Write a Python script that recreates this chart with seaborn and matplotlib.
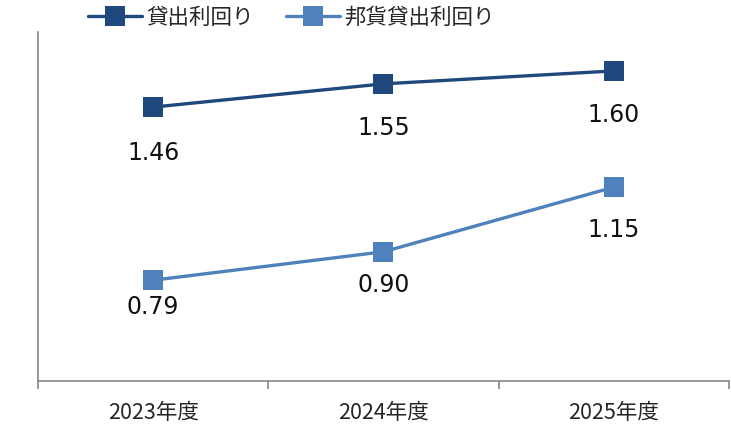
import pandas as pd
import matplotlib.pyplot as plt
import seaborn as sns

years = ["2023年度", "2024年度", "2025年度"]
series_names = ["貸出利回り", "邦貨貸出利回り"]
loan_yield = [1.46, 1.55, 1.60]
yen_loan_yield = [0.79, 0.90, 1.15]

colors = ["#1F497D", "#4F81BD"]
# label offsets below each point (points)
label_offsets = [[-33, -32, -32], [-19, -24, -31]]

rows = []
for name, vals in zip(series_names, [loan_yield, yen_loan_yield]):
    for i, v in enumerate(vals):
        rows.append({"x": i, "year": years[i], "series": name, "value": v})
df = pd.DataFrame(rows)

sns.set_style("white")
plt.rcParams["font.family"] = ["Noto Sans CJK JP", "DejaVu Sans"]

fig = plt.figure(figsize=(7.31, 4.29), dpi=100)
ax = fig.add_axes([0.052, 0.112, 0.945, 0.813])

sns.lineplot(data=df, x="x", y="value", hue="series", style="series",
             markers=["s", "s"], dashes=False, palette=colors,
             linewidth=2.4, markersize=15, markeredgewidth=0, ax=ax)

for k, (name, vals) in enumerate(zip(series_names, [loan_yield, yen_loan_yield])):
    for i, v in enumerate(vals):
        ax.annotate(f"{v:.2f}", (i, v), xytext=(0, label_offsets[k][i]),
                    textcoords="offset points", ha="center", va="center",
                    fontsize=17, fontfamily=["DejaVu Sans"], color="#111111")

ax.set_xlim(-0.5, 2.5)
ax.set_ylim(0.4, 1.75)
ax.set_xticks([0, 1, 2])
ax.set_xticklabels(years, fontsize=15.5)
ax.set_xticks([-0.5, 0.5, 1.5, 2.5], minor=True)
ax.tick_params(axis="x", which="major", bottom=True, length=0, pad=15)
ax.tick_params(axis="x", which="minor", bottom=True, length=6, width=1.2,
               color="#868686", direction="out")
ax.tick_params(axis="y", left=False, labelleft=False)
ax.set_yticks([])
ax.set_xlabel("")
ax.set_ylabel("")

for s in ["top", "right"]:
    ax.spines[s].set_visible(False)
for s in ["left", "bottom"]:
    ax.spines[s].set_color("#868686")
    ax.spines[s].set_linewidth(1.2)

handles, labels = ax.get_legend_handles_labels()
ax.legend(handles, labels, loc="lower left", bbox_to_anchor=(0.06, 0.985), ncol=2,
          frameon=False, fontsize=15.5, handlelength=2.5, columnspacing=1.5,
          handletextpad=0.2, borderaxespad=0)

fig.savefig("out.png", dpi=100)
